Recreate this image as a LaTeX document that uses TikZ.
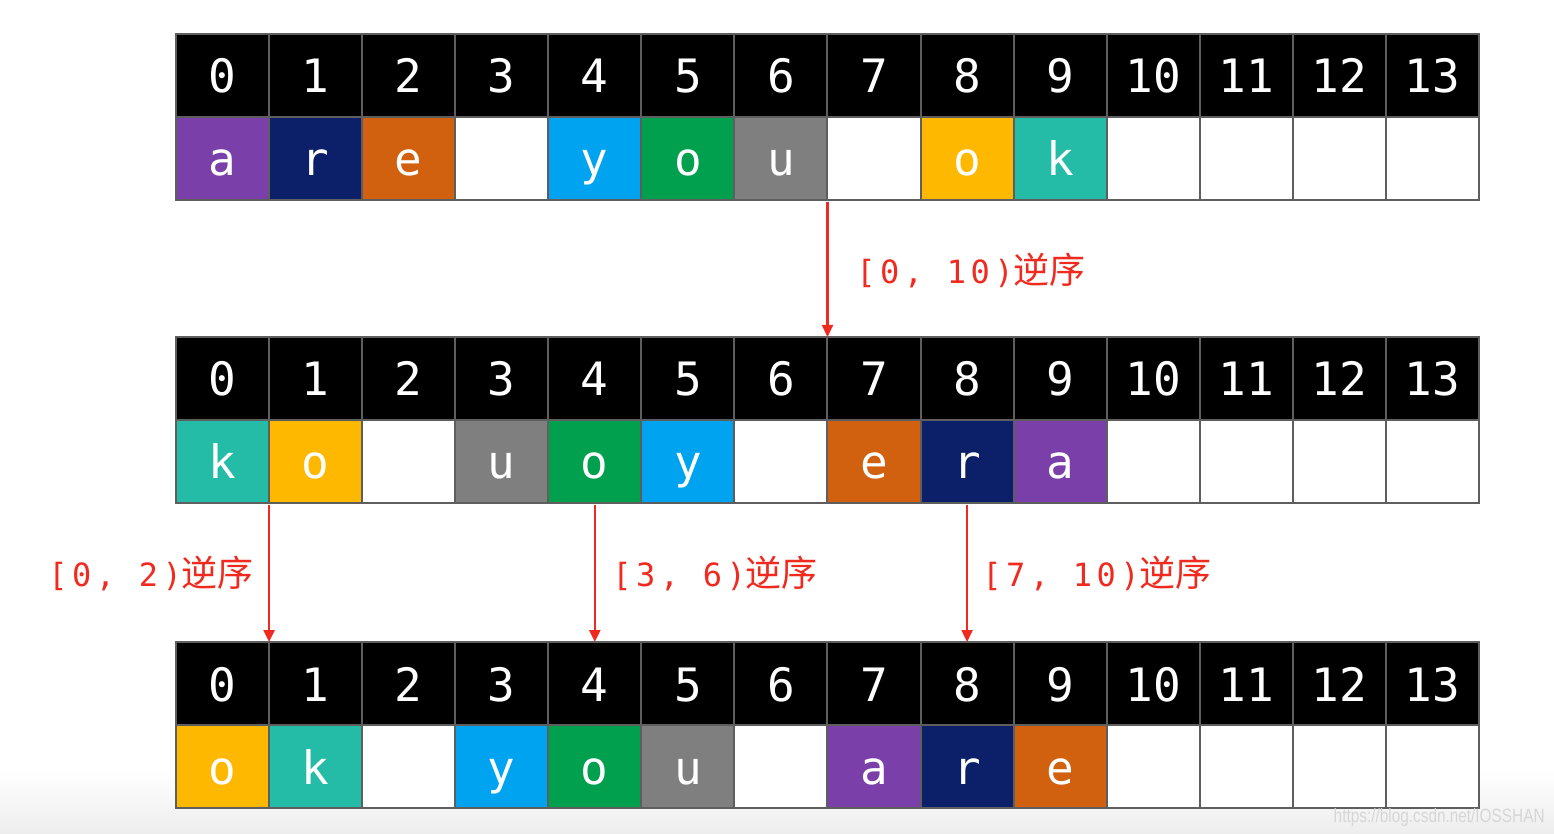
\documentclass[tikz,border=0pt]{standalone}
\usepackage{graphicx}
\usepackage{fontspec}
\setmonofont{DejaVu Sans Mono}
\newfontfamily\cjk{Noto Sans CJK SC}
\newfontfamily\lblmono[LetterSpace=14]{DejaVu Sans Mono}
\newfontfamily\wmfont{Liberation Sans}
\usetikzlibrary{arrows.meta}
\definecolor{cpur}{HTML}{7A3FA9}
\definecolor{cnav}{HTML}{0B2068}
\definecolor{corg}{HTML}{D1600F}
\definecolor{cblu}{HTML}{00A3F0}
\definecolor{cgrn}{HTML}{00A04F}
\definecolor{cgry}{HTML}{7F7F7F}
\definecolor{cyel}{HTML}{FFB800}
\definecolor{ctea}{HTML}{24BCA6}
\definecolor{cellgray}{HTML}{5E5E5E}
\definecolor{arrred}{HTML}{F02A1E}
\definecolor{wmgray}{HTML}{D6D6D6}
\newcommand\myrow[3]{%
  \foreach \i in {0,...,13}{
    \node[hcell] (#1h\i) at ({176+93.07*(\i+0.5)}, {#2+41.5}) {\i};
  }
  \foreach \i/\c/\t in {#3}{
    \node[cell, fill=\c] (#1v\i) at ({176+93.07*(\i+0.5)}, {#2+124.5}) {\t};
  }
}
\begin{document}
\begin{tikzpicture}[x=0.5pt,y=-0.5pt,
  cell/.style={draw=cellgray, line width=1pt, minimum width=46.535pt, minimum height=41.5pt,
    inner sep=0pt, outer sep=0pt, text height=17.5pt, text depth=0pt,
    font=\fontsize{23}{23}\selectfont\ttfamily, text=white},
  hcell/.style={cell, fill=black},
  arr/.style={draw=arrred, line width=1.1pt, -{Triangle[length=6pt,width=5.5pt]}},
  lbl/.style={text=arrred, anchor=base west, inner sep=0pt,
    font=\fontsize{16}{18}\selectfont\lblmono}
]
\useasboundingbox (0,0) rectangle (1554,834);
\fill[white] (0,0) rectangle (1554,834);
\shade[top color=white, bottom color=black!7] (0,770) rectangle (1554,834);

\myrow{a}{34}{0/cpur/a,1/cnav/r,2/corg/e,3/white/{},4/cblu/y,5/cgrn/o,6/cgry/u,7/white/{},8/cyel/o,9/ctea/k,10/white/{},11/white/{},12/white/{},13/white/{}}
\myrow{b}{337}{0/ctea/k,1/cyel/o,2/white/{},3/cgry/u,4/cgrn/o,5/cblu/y,6/white/{},7/corg/e,8/cnav/r,9/cpur/a,10/white/{},11/white/{},12/white/{},13/white/{}}
\myrow{c}{642}{0/cyel/o,1/ctea/k,2/white/{},3/cblu/y,4/cgrn/o,5/cgry/u,6/white/{},7/cpur/a,8/cnav/r,9/corg/e,10/white/{},11/white/{},12/white/{},13/white/{}}

\draw[arr] ([yshift=-1pt]av7.south west) -- (bh7.north west);
\draw[arr] ([yshift=-1pt]bv1.south west) -- (ch1.north west);
\draw[arr] ([yshift=-1pt]bv4.south) -- (ch4.north);
\draw[arr] ([yshift=-1pt]bv8.south) -- (ch8.north);

\node[lbl] (l1) at (856,284) {[0, 10){\fontsize{18}{20}\selectfont\cjk 逆序}};
\node[lbl] (l2) at (48,586) {[0, 2){\fontsize{18}{20}\selectfont\cjk 逆序}};
\node[lbl] (l3) at (612,586) {[3, 6){\fontsize{18}{20}\selectfont\cjk 逆序}};
\node[lbl] (l4) at (982,586) {[7, 10){\fontsize{18}{20}\selectfont\cjk 逆序}};

\node[anchor=base east, inner sep=0pt, text=wmgray] (wm) at (1545,822)
  {\scalebox{0.8}[1]{\fontsize{9.6}{10}\selectfont\wmfont https://blog.csdn.net/IOSSHAN}};
\end{tikzpicture}
\end{document}
